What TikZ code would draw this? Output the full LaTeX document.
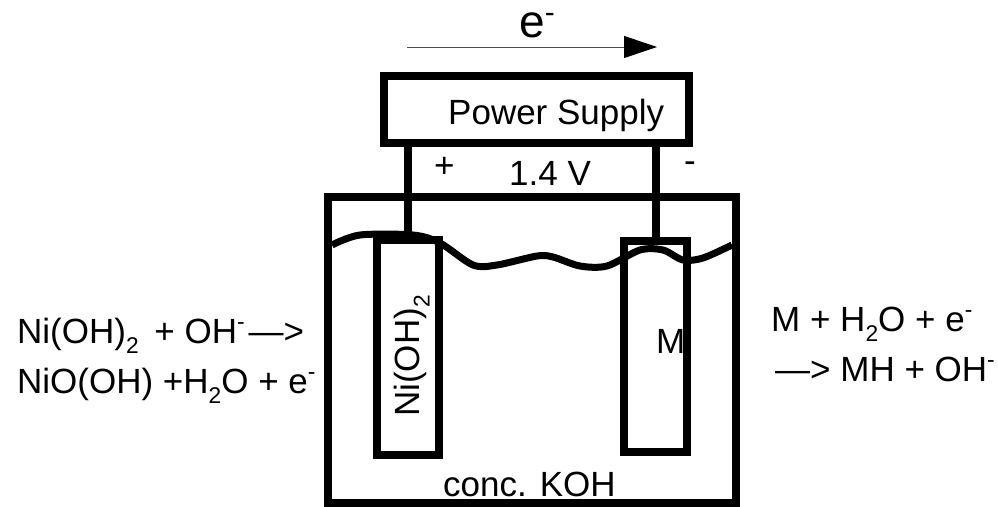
\documentclass[tikz,border=0pt]{standalone}
\usepackage{fontspec}
\usepackage{graphicx}
\setmainfont{Liberation Sans}
\usetikzlibrary{positioning, arrows.meta}

\newcommand{\upminus}{\raisebox{0.4em}{\scalebox{0.65}{-}}}
\newcommand{\downtwo}{\raisebox{-0.3em}{\scalebox{0.65}{2}}}

\tikzset{
    box/.style={draw, line width=8pt, inner sep=0pt},
    wire/.style={line width=8pt},
    txt/.style={inner sep=0pt, anchor=base west, font=\fontsize{35}{38}\selectfont},
}

\begin{document}
\begin{tikzpicture}[x=1pt, y=-1pt]
            \useasboundingbox (0,0) rectangle (998,506);

            \node[box, minimum width=305pt, minimum height=67pt] (supply) at (536,109.5) {};
            \node[box, minimum width=408pt, minimum height=306pt] (tank) at (532,350) {};
            \node[box, minimum width=62pt, minimum height=215pt] (nickel) at (408,347.5) {};
            \node[box, minimum width=63pt, minimum height=211pt] (metal) at (655.5,346.5) {};

            % Draw wires
            \draw[wire] (nickel.north) -- (nickel.north |- supply.south);
            \draw[wire] (metal.north) -- (metal.north |- supply.south);

            % Draw electrolyte level
            \draw[line width=7pt] plot[smooth, tension=0.5] coordinates {(332,245) (360,235) (413,235) (440,243) (473,265) (497,265) (537,256) (553,257) (580,266) (607,266) (640,250) (663,250) (683,260) (703,258) (732,245)};

            % Draw electron flow
            \coordinate (flowstart) at (407,47);
            \coordinate (flowend) at (657,47);
            \draw[line width=1pt, black!70, -{Triangle[length=33pt, width=22pt, black]}] (flowstart) -- (flowend);

            \node[txt, font=\fontsize{46}{50}\selectfont] (electron) at (519,37) {e\raisebox{0.32em}{\scalebox{0.65}{-}}};
            \node[txt] (supplylabel) at (448,124) {Power Supply};
            \node[txt] (plus) at (434,177) {+};
            \node[txt] (voltage) at (509,185) {1.4 V};
            \node[txt] (minus) at (684,172) {-};
            \node[txt] (koh) at (443,496) {conc. KOH};
            \node[txt] (metallabel) at (656,353) {M};
            \node[txt, rotate=90] (nickellabel) at (419,417) {Ni(OH)\downtwo};

            % Draw half reactions
            \node[txt] (leftone) at (17,343) {Ni(OH)\downtwo\hspace{6pt} + OH\upminus\hspace{4pt}—>};
            \node[txt] (lefttwo) at (17,393) {NiO(OH) +H\downtwo O + e\upminus};
            \node[txt] (rightone) at (771,331) {M + H\downtwo O + e\upminus};
            \node[txt] (righttwo) at (775,381) {—> MH + OH\upminus};
        \end{tikzpicture}
\end{document}
